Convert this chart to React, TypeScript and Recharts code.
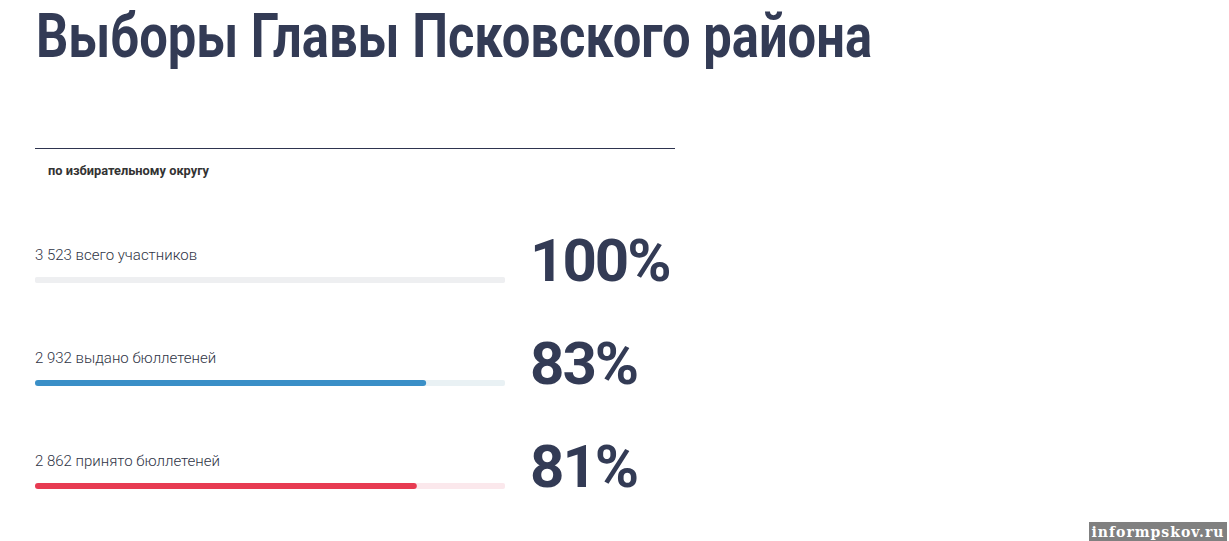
import { BarChart, Bar, XAxis, YAxis, LabelList } from "recharts";

const categories = ["всего участников", "выдано бюллетеней", "принято бюллетеней"];
const counts = [3523, 2932, 2862];
const barColors = ["#eeeff1", "#3a8fc7", "#e73b52"];
const trackColors = ["#eeeff1", "#e9f1f4", "#fbe8ec"];

const INK = "#333b55";
const PLOT_LEFT = 35;
const PLOT_WIDTH = 470;

const fmt = (n: number) => String(n).replace(/\B(?=(\d{3})+(?!\d))/g, " ");

const data = categories.map((name, i) => ({
  name,
  count: counts[i],
  pct: Math.round((counts[i] / counts[0]) * 100),
}));

const RowLabel = (props: any) => {
  const { y, height, index } = props;
  const d = data[index];
  const cy = y + height / 2;
  return (
    <g>
      <text x={PLOT_LEFT} y={cy - 20} fontFamily="Roboto" fontWeight={300} fontSize={15} fill="#2f3445">
        {fmt(d.count)} {d.name}
      </text>
      <text
        x={PLOT_LEFT + PLOT_WIDTH + 25}
        y={cy + 1}
        fontFamily="Roboto"
        fontWeight={700}
        fontSize={60}
        letterSpacing={-2}
        fill={INK}
      >
        {d.pct}%
      </text>
    </g>
  );
};

const Track = (props: any) => {
  const { x, y, width, height, index } = props;
  return <rect x={x} y={y} width={width} height={height} rx={2} fill={trackColors[index]} />;
};

const Fill = (props: any) => {
  const { x, y, width, height, index } = props;
  return <rect x={x} y={y} width={width} height={height} rx={3} fill={barColors[index]} />;
};

export default function App() {
  return (
    <div style={{ position: "fixed", left: 0, top: 0, width: 1229, height: 541, background: "#fff", overflow: "hidden" }}>
      <svg width={1229} height={541} style={{ position: "absolute", left: 0, top: 0 }}>
        <text
          x={36}
          y={57}
          fontFamily="Roboto"
          fontWeight={700}
          fontSize={62}
          fill={INK}
          textLength={836}
          lengthAdjust="spacingAndGlyphs"
        >
          Выборы Главы Псковского района
        </text>
        <line x1={35} x2={675} y1={148.5} y2={148.5} stroke="#2e344f" strokeWidth={1} />
        <text x={48} y={175} fontFamily="Roboto" fontWeight={700} fontSize={12} fill="#333" textLength={161} lengthAdjust="spacingAndGlyphs">
          по избирательному округу
        </text>
        <rect x={1089} y={522} width={138} height={19} fill="#808080" />
        <text x={1158} y={537} textAnchor="middle" fontFamily="DejaVu Serif" fontWeight={700} fontSize={14} fill="#fff" letterSpacing={1}>
          informpskov.ru
        </text>
      </svg>
      <div style={{ position: "absolute", left: 0, top: 198 }}>
        <BarChart
          width={700}
          height={339}
          layout="vertical"
          data={data}
          margin={{ top: 30, right: 700 - PLOT_LEFT - PLOT_WIDTH, bottom: 0, left: PLOT_LEFT }}
        >
          <XAxis type="number" dataKey="count" domain={[0, counts[0]]} hide />
          <YAxis type="category" dataKey="name" hide />
          <Bar dataKey="count" barSize={6} background={<Track />} shape={<Fill />} isAnimationActive={false}>
            <LabelList dataKey="count" content={<RowLabel />} />
          </Bar>
        </BarChart>
      </div>
    </div>
  );
}
